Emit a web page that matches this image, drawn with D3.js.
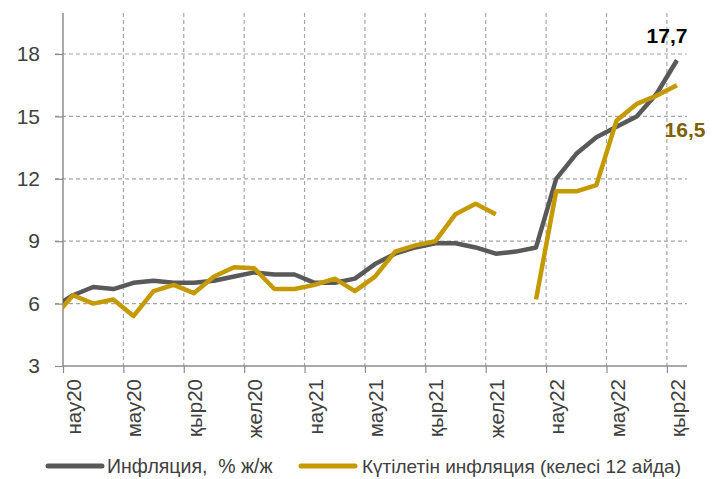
<!DOCTYPE html>
<html>
<head>
<meta charset="utf-8">
<script src="https://cdn.jsdelivr.net/npm/d3@7"></script>
<style>
  html, body { margin: 0; padding: 0; background: #fff; }
  svg { display: block; font-family: "Liberation Sans", Arial, sans-serif; }
</style>
</head>
<body>
<svg id="chart" width="720" height="479"></svg>
<script>
// Months from Feb 2020 to Sep 2022 (index 0 = Feb20)
const months = ["ақп20","нау20","сәу20","мам20","мау20","шіл20","там20","қыр20","қаз20","қар20","жел20",
  "қаң21","ақп21","нау21","сәу21","мам21","мау21","шіл21","там21","қыр21","қаз21","қар21","жел21",
  "қаң22","ақп22","нау22","сәу22","мам22","мау22","шіл22","там22","қыр22"];
const inflation = [5.8, 6.4, 6.8, 6.7, 7.0, 7.1, 7.0, 7.0, 7.1, 7.3, 7.5,
  7.4, 7.4, 7.0, 7.0, 7.2, 7.9, 8.4, 8.7, 8.9, 8.9, 8.7, 8.4,
  8.5, 8.7, 12.0, 13.2, 14.0, 14.5, 15.0, 16.1, 17.7];
const expected = [5.3, 6.4, 6.0, 6.2, 5.4, 6.6, 6.9, 6.5, 7.3, 7.75, 7.7,
  6.7, 6.7, 6.9, 7.2, 6.6, 7.3, 8.5, 8.8, 9.0, 10.3, 10.8, 10.3,
  null, 6.2, 11.4, 11.4, 11.7, 14.8, 15.6, 16.0, 16.5];
const xTickLabels = ["нау20","мау20","қыр20","жел20","нау21","мау21","қыр21","жел21","нау22","мау22","қыр22"];
const yTicks = [3, 6, 9, 12, 15, 18];
const seriesNames = ["Инфляция,  % ж/ж", "Күтілетін инфляция (келесі 12 айда)"];
const endLabels = ["17,7", "16,5"];

(function () {
const svg = d3.select("#chart");
const mL = 63, mR = 687, mT = 13, mB = 366;

const x = d3.scaleLinear().domain([0.5, months.length - 0.5]).range([mL, mR]);
// 3 -> 366, 18 -> 54
const y = d3.scaleLinear().domain([3, 20]).range([mB, mB - (mB - 54) / 15 * 17]);

const tickPos = xTickLabels.map((d, i) => 0.5 + 3 * i);
const labelPos = xTickLabels.map((d, i) => 1 + 3 * i);

const grid = svg.append("g");
grid.selectAll("line.h").data(yTicks.filter(d => d !== 3)).join("line")
  .attr("x1", mL - 8).attr("x2", mR)
  .attr("y1", d => y(d)).attr("y2", d => y(d))
  .attr("stroke", "#a6a6a6").attr("stroke-width", 1.2).attr("stroke-dasharray", "4,3");
grid.selectAll("line.v").data(tickPos.slice(1)).join("line")
  .attr("x1", d => x(d)).attr("x2", d => x(d))
  .attr("y1", mT).attr("y2", mB)
  .attr("stroke", "#a6a6a6").attr("stroke-width", 1.2).attr("stroke-dasharray", "4,3");

const yAxis = svg.append("g").attr("transform", `translate(${mL},0)`)
  .call(d3.axisLeft(y).tickValues(yTicks).tickSize(8).tickPadding(15).tickSizeOuter(0));
yAxis.select(".domain").attr("stroke", "#8c8c8c").attr("stroke-width", 1.5)
  .attr("d", `M0,${mT}V${mB}`);
yAxis.selectAll(".tick line").attr("stroke", "#8c8c8c").attr("stroke-width", 1.2);
yAxis.selectAll(".tick text").attr("font-size", 21).attr("fill", "#404040")
  .attr("font-family", "Liberation Sans, Arial, sans-serif");

const xAxis = svg.append("g").attr("transform", `translate(0,${mB})`)
  .call(d3.axisBottom(x).tickValues(tickPos).tickSize(7).tickFormat("").tickSizeOuter(0));
xAxis.select(".domain").attr("stroke", "#8c8c8c").attr("stroke-width", 1.5)
  .attr("d", `M${mL},0H${mR}`);
xAxis.selectAll(".tick line").attr("stroke", "#8c8c8c").attr("stroke-width", 1.2);

svg.append("g").selectAll("text").data(xTickLabels).join("text")
  .attr("transform", (d, i) => `translate(${x(labelPos[i]) + 8},${mB + 13}) rotate(-90)`)
  .attr("text-anchor", "end")
  .attr("font-size", 20.5).attr("fill", "#404040")
  .text(d => d);

svg.append("clipPath").attr("id", "plotclip").append("rect")
  .attr("x", mL).attr("y", 0).attr("width", mR - mL + 10).attr("height", mB);

const line = d3.line().defined(d => d[1] !== null).x(d => x(d[0])).y(d => y(d[1]));

const plot = svg.append("g").attr("clip-path", "url(#plotclip)");
plot.append("path").datum(inflation.map((v, i) => [i, v]))
  .attr("d", line).attr("fill", "none").attr("stroke", "#595959")
  .attr("stroke-width", 4.5).attr("stroke-linejoin", "round");
plot.append("path").datum(expected.map((v, i) => [i, v]))
  .attr("d", line).attr("fill", "none").attr("stroke", "#c49a00")
  .attr("stroke-width", 4.5).attr("stroke-linejoin", "round");

svg.append("text").attr("x", 667).attr("y", 43).attr("text-anchor", "middle")
  .attr("font-size", 21).attr("font-weight", "bold").attr("fill", "#000")
  .text(endLabels[0]);
svg.append("text").attr("x", 685).attr("y", 137).attr("text-anchor", "middle")
  .attr("font-size", 21).attr("font-weight", "bold").attr("fill", "#7f6000")
  .text(endLabels[1]);

const legend = svg.append("g");
legend.append("line").attr("x1", 48).attr("x2", 102).attr("y1", 466).attr("y2", 466)
  .attr("stroke", "#595959").attr("stroke-width", 5).attr("stroke-linecap", "round");
legend.append("text").attr("x", 107).attr("y", 473).attr("font-size", 19.5).attr("fill", "#404040")
  .attr("xml:space", "preserve").text(seriesNames[0]);
legend.append("line").attr("x1", 301).attr("x2", 355).attr("y1", 466).attr("y2", 466)
  .attr("stroke", "#c49a00").attr("stroke-width", 5).attr("stroke-linecap", "round");
legend.append("text").attr("x", 362).attr("y", 473).attr("font-size", 19).attr("fill", "#404040")
  .text(seriesNames[1]);
})();
</script>
</body>
</html>
